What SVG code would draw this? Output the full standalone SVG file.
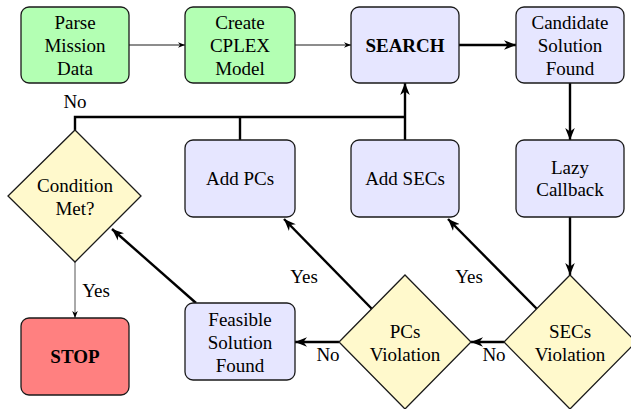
<svg xmlns="http://www.w3.org/2000/svg" width="631" height="409" viewBox="0 0 631 409">
<defs>
<marker id="as" viewBox="0 0 10 8" refX="10" refY="4" markerWidth="7" markerHeight="5.6" markerUnits="userSpaceOnUse" orient="auto">
<path d="M0,0 L10,4 L0,8 L3,4 z" fill="#000"/>
</marker>
<marker id="al" viewBox="0 0 10 8" refX="10" refY="4" markerWidth="12" markerHeight="10" markerUnits="userSpaceOnUse" orient="auto">
<path d="M0,0 L10,4 L0,8 L3,4 z" fill="#000"/>
</marker>
</defs>
<g font-family="Liberation Serif" font-size="19" text-anchor="middle" fill="#000">
<g id="connectors" fill="none">
<g stroke="#000" stroke-width="0.9">
<line x1="129" y1="45" x2="185" y2="45" marker-end="url(#as)"/>
<line x1="295" y1="45" x2="351" y2="45" marker-end="url(#as)"/>
</g>
<g stroke="#000" stroke-width="2.4" marker-end="url(#al)">
<line x1="459" y1="45" x2="516" y2="45"/>
<line x1="570" y1="83" x2="570" y2="140"/>
<line x1="570" y1="217" x2="570" y2="275"/>
<line x1="537" y1="309" x2="448" y2="219"/>
<line x1="372" y1="309" x2="284" y2="219"/>
<line x1="504" y1="342" x2="471" y2="342"/>
<line x1="339" y1="342" x2="295" y2="342"/>
<line x1="196" y1="303" x2="112" y2="229"/>
<line x1="405" y1="140" x2="405" y2="83"/>
</g>
<g stroke="#000" stroke-width="2.4">
<polyline points="75,130 75,117 405,117"/>
<line x1="240" y1="140" x2="240" y2="117"/>
</g>
<line stroke="#555" stroke-width="1" x1="75" y1="262" x2="75" y2="318" marker-end="url(#as)"/>
<g fill="#000">
<text x="75" y="108">No</text>
<text x="96" y="297">Yes</text>
<text x="304" y="283">Yes</text>
<text x="469" y="283">Yes</text>
<text x="328" y="361">No</text>
<text x="494" y="361">No</text>
</g>
</g>
<g stroke-width="1.3">
<g id="parse"><rect fill="#b3ffb3" stroke="#1a1a1a" x="21" y="7" width="108" height="76" rx="8"/><text x="75" y="29">Parse</text><text x="75" y="52">Mission</text><text x="75" y="75">Data</text></g>
<g id="cplex"><rect fill="#b3ffb3" stroke="#1a1a1a" x="185" y="7" width="110" height="76" rx="8"/><text x="240" y="29">Create</text><text x="240" y="52">CPLEX</text><text x="240" y="75">Model</text></g>
<g id="search"><rect fill="#e6e6ff" stroke="#1a1a1a" x="351" y="7" width="108" height="76" rx="8"/><text font-weight="bold" x="405" y="52">SEARCH</text></g>
<g id="candidate"><rect fill="#e6e6ff" stroke="#1a1a1a" x="516" y="7" width="108" height="76" rx="8"/><text x="570" y="29">Candidate</text><text x="570" y="52">Solution</text><text x="570" y="75">Found</text></g>
<g id="condition"><polygon fill="#fff9cc" stroke="#1a1a1a" points="75,130 141,196 75,262 8,196"/><text x="75" y="192">Condition</text><text x="75" y="215">Met?</text></g>
<g id="addpcs"><rect fill="#e6e6ff" stroke="#1a1a1a" x="185" y="140" width="110" height="77" rx="8"/><text x="240" y="185">Add PCs</text></g>
<g id="addsecs"><rect fill="#e6e6ff" stroke="#1a1a1a" x="351" y="140" width="108" height="77" rx="8"/><text x="405" y="185">Add SECs</text></g>
<g id="lazy"><rect fill="#e6e6ff" stroke="#1a1a1a" x="516" y="140" width="108" height="77" rx="8"/><text x="570" y="174">Lazy</text><text x="570" y="196">Callback</text></g>
<g id="stop"><rect fill="#ff8080" stroke="#1a1a1a" x="21" y="318" width="108" height="77" rx="8"/><text font-weight="bold" x="75" y="363">STOP</text></g>
<g id="feasible"><rect fill="#e6e6ff" stroke="#1a1a1a" x="185" y="303" width="110" height="77" rx="8"/><text x="240" y="326">Feasible</text><text x="240" y="349">Solution</text><text x="240" y="372">Found</text></g>
<g id="pcsviol"><polygon fill="#fff9cc" stroke="#1a1a1a" points="405,275 471,342 405,409 339,342"/><text x="405" y="338">PCs</text><text x="405" y="361">Violation</text></g>
<g id="secsviol"><polygon fill="#fff9cc" stroke="#1a1a1a" points="570,275 636,342 570,409 504,342"/><text x="570" y="338">SECs</text><text x="570" y="361">Violation</text></g>
</g>
</g>
</svg>
